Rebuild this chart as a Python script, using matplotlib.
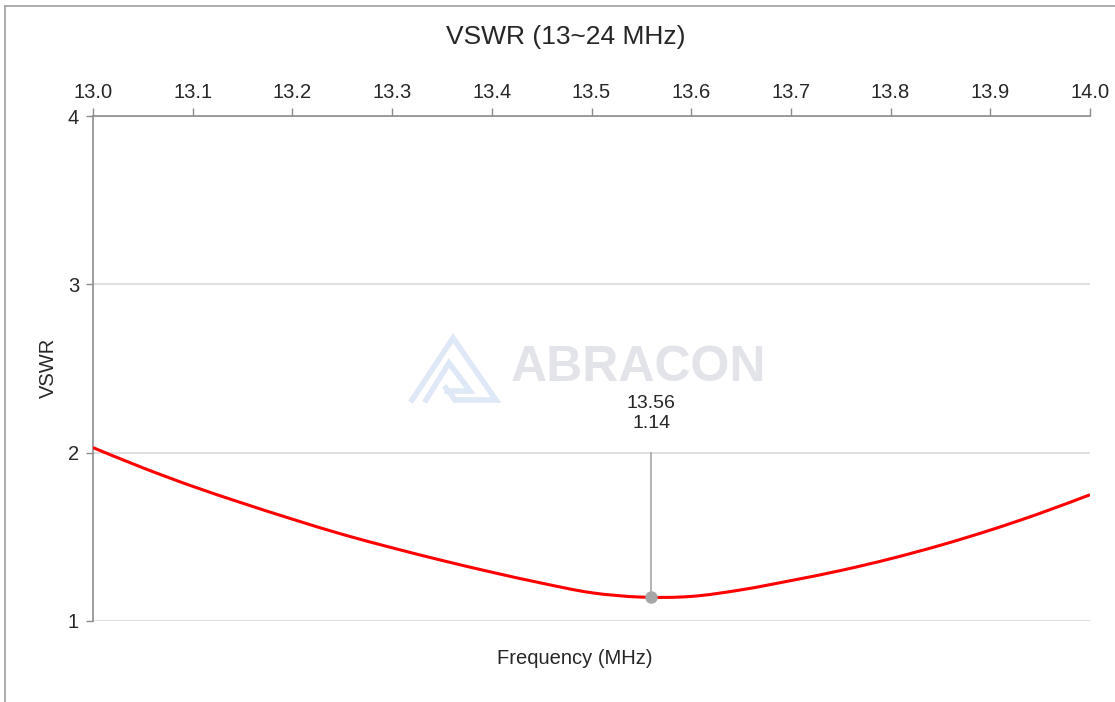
import matplotlib.pyplot as plt
import numpy as np
from matplotlib.lines import Line2D
from matplotlib.path import Path
from matplotlib.patches import PathPatch

plt.rcParams['font.family'] = ['Liberation Sans', 'DejaVu Sans']

# Data
freq = [13.00, 13.05, 13.10, 13.15, 13.20, 13.25, 13.30, 13.35, 13.40, 13.45,
        13.50, 13.55, 13.60, 13.65, 13.70, 13.75, 13.80, 13.85, 13.90, 13.95,
        14.00]
vswr = [2.03, 1.91, 1.80, 1.70, 1.605, 1.515, 1.435, 1.36, 1.29, 1.225,
        1.168, 1.142, 1.146, 1.185, 1.24, 1.30, 1.37, 1.45, 1.54, 1.64,
        1.75]
x_ticks = [13.0, 13.1, 13.2, 13.3, 13.4, 13.5, 13.6, 13.7, 13.8, 13.9, 14.0]
y_ticks = [1, 2, 3, 4]
marker_f = 13.56
marker_v = 1.14

W, H = 1115, 702
fig = plt.figure(figsize=(W / 100, H / 100), dpi=100)
ax = fig.add_axes([93 / W, 1 - 621 / H, 997 / W, 505 / H])

axis_col = '#8c8c8c'
grid_col = '#d9d9d9'
txt_col = '#262626'

# grid
for y in y_ticks:
    ax.axhline(y, color=grid_col, lw=1.2, zorder=0)


def smooth_path(xs, ys):
    # smoothed line (Catmull-Rom drawn as cubic Bezier), like a spreadsheet "smooth line"
    p = np.column_stack([xs, ys])
    verts = [p[0]]
    codes = [Path.MOVETO]
    n = len(p)
    for i in range(n - 1):
        p0 = p[max(i - 1, 0)]
        p1 = p[i]
        p2 = p[i + 1]
        p3 = p[min(i + 2, n - 1)]
        c1 = p1 + (p2 - p0) / 6
        c2 = p2 - (p3 - p1) / 6
        verts += [c1, c2, p2]
        codes += [Path.CURVE4] * 3
    return Path(verts, codes)


ax.add_patch(PathPatch(smooth_path(freq, vswr), fill=False, ec='#ff0000', lw=2.2,
                       zorder=3, capstyle='butt'))

# annotation for the marker
ax.plot([marker_f, marker_f], [marker_v, 2.0], color='#a6a6a6', lw=1.2, zorder=2)
ax.plot(marker_f, marker_v, 'o', color='#a6a6a6', ms=8, zorder=4)
ax.text(marker_f, 2.12, f'{marker_f:.2f}\n{marker_v:.2f}', ha='center', va='bottom',
        fontsize=14, color=txt_col, linespacing=1.3)

ax.set_xlim(13.0, 14.0)
ax.set_ylim(1, 4)
ax.set_xticks(x_ticks)
ax.set_xticklabels([f'{t:.1f}' for t in x_ticks])
ax.set_yticks(y_ticks)
ax.xaxis.tick_top()
ax.tick_params(axis='x', direction='out', length=6, width=1, color=axis_col,
               labelsize=14.5, labelcolor=txt_col, pad=4)
ax.tick_params(axis='y', direction='out', length=5, width=1, color=axis_col,
               labelsize=14.5, labelcolor=txt_col, pad=5)

for s in ['right', 'bottom']:
    ax.spines[s].set_visible(False)
for s in ['left', 'top']:
    ax.spines[s].set_color(axis_col)
    ax.spines[s].set_linewidth(1.2)

# labels and title
fig.text(48 / W, 1 - 368 / H, 'VSWR', rotation=90, ha='center', va='center',
         fontsize=14.5, color=txt_col)
fig.text(575 / W, 1 - 659 / H, 'Frequency (MHz)', ha='center', va='center',
         fontsize=14.5, color=txt_col)
fig.text(566 / W, 1 - 37 / H, 'VSWR (13~24 MHz)', ha='center', va='center',
         fontsize=19, color=txt_col)

# watermark
fig.text(511 / W, 1 - 368 / H, 'ABRACON', ha='left', va='center', fontsize=36,
         fontweight='bold', color='#e3e4e9', zorder=0)
logo_col = '#dfe8f6'


def px(pts):
    return [p[0] / W for p in pts], [1 - p[1] / H for p in pts]


logo_parts = [
    [(412, 400), (453, 338), (496, 400), (455, 400), (446, 388)],
    [(426, 400), (449, 363), (470, 391), (447, 391)],
]
for part in logo_parts:
    xs, ys = px(part)
    fig.lines.append(Line2D(xs, ys, color=logo_col, lw=4, solid_joinstyle='miter',
                            transform=fig.transFigure, zorder=0))

# outer frame (left and top edges visible)
fig.lines.append(Line2D([5 / W, 5 / W], [0, 1 - 6 / H], color='#a0a0a0', lw=1.2,
                        transform=fig.transFigure))
fig.lines.append(Line2D([5 / W, 1], [1 - 6 / H, 1 - 6 / H], color='#a0a0a0', lw=1.2,
                        transform=fig.transFigure))

fig.savefig('out.png', dpi=100)
